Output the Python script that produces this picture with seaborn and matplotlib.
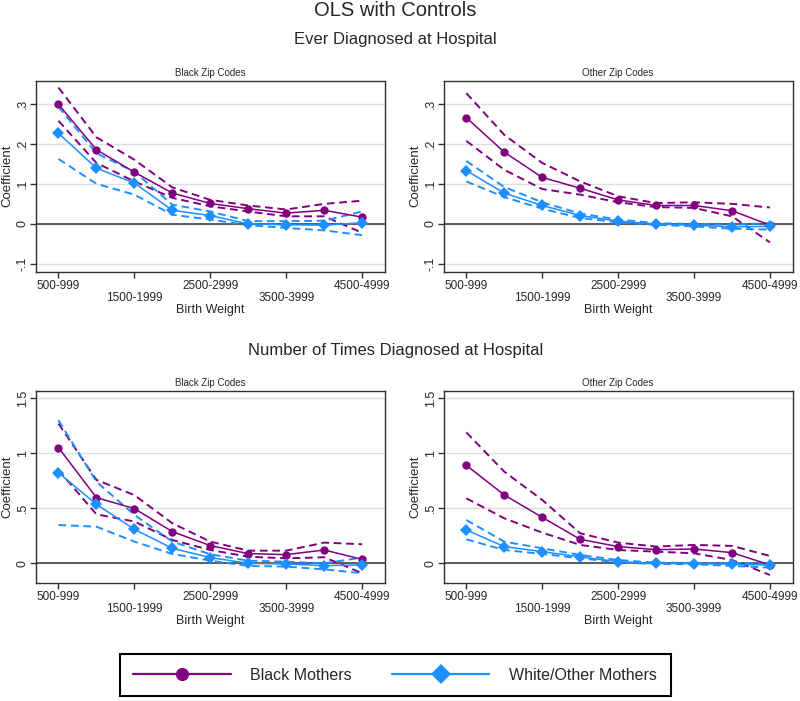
import numpy as np
import pandas as pd
import seaborn as sns
import matplotlib.pyplot as plt
from matplotlib.lines import Line2D

# birth weight bins (x axis)
bins = ['500-999', '1000-1499', '1500-1999', '2000-2499', '2500-2999',
        '3000-3499', '3500-3999', '4000-4499', '4500-4999']
shown_ticks = [0, 2, 4, 6, 8]
tick_labels = ['500-999', '\n1500-1999', '2500-2999', '\n3500-3999', '4500-4999']

# Ever diagnosed, black zip codes
ever_bz_black = [0.298, 0.185, 0.129, 0.077, 0.051, 0.038, 0.027, 0.034, 0.017]
ever_bz_black_hi = [0.340, 0.216, 0.160, 0.091, 0.060, 0.046, 0.036, 0.050, 0.058]
ever_bz_black_lo = [0.257, 0.152, 0.106, 0.065, 0.044, 0.031, 0.019, 0.019, -0.022]
ever_bz_white = [0.226, 0.139, 0.102, 0.034, 0.021, 0.000, -0.002, -0.003, 0.003]
ever_bz_white_hi = [0.292, 0.176, 0.130, 0.048, 0.031, 0.007, 0.007, 0.008, 0.031]
ever_bz_white_lo = [0.162, 0.100, 0.073, 0.023, 0.011, -0.003, -0.010, -0.016, -0.028]

# Ever diagnosed, other zip codes
ever_oz_black = [0.265, 0.179, 0.116, 0.089, 0.060, 0.046, 0.046, 0.033, -0.003]
ever_oz_black_hi = [0.326, 0.222, 0.152, 0.106, 0.069, 0.052, 0.054, 0.050, 0.041]
ever_oz_black_lo = [0.207, 0.135, 0.087, 0.073, 0.054, 0.042, 0.040, 0.019, -0.046]
ever_oz_white = [0.133, 0.077, 0.046, 0.021, 0.007, 0.000, -0.003, -0.007, -0.006]
ever_oz_white_hi = [0.157, 0.092, 0.054, 0.026, 0.011, 0.002, 0.000, -0.002, 0.002]
ever_oz_white_lo = [0.106, 0.067, 0.038, 0.015, 0.004, -0.002, -0.006, -0.012, -0.014]

# Number of times diagnosed, black zip codes
times_bz_black = [1.052, 0.597, 0.497, 0.288, 0.161, 0.088, 0.079, 0.121, 0.036]
times_bz_black_hi = [1.270, 0.758, 0.620, 0.364, 0.197, 0.115, 0.115, 0.188, 0.173]
times_bz_black_lo = [0.848, 0.445, 0.380, 0.212, 0.121, 0.060, 0.045, 0.055, -0.090]
times_bz_white = [0.824, 0.536, 0.309, 0.136, 0.052, 0.000, -0.006, -0.021, -0.015]
times_bz_white_hi = [1.300, 0.742, 0.440, 0.197, 0.082, 0.024, 0.015, 0.000, 0.052]
times_bz_white_lo = [0.348, 0.333, 0.197, 0.085, 0.024, -0.024, -0.030, -0.055, -0.090]

# Number of times diagnosed, other zip codes
times_oz_black = [0.891, 0.621, 0.418, 0.218, 0.152, 0.124, 0.130, 0.097, -0.015]
times_oz_black_hi = [1.190, 0.833, 0.576, 0.273, 0.188, 0.152, 0.167, 0.158, 0.067]
times_oz_black_lo = [0.591, 0.409, 0.279, 0.167, 0.121, 0.106, 0.091, 0.030, -0.106]
times_oz_white = [0.303, 0.152, 0.106, 0.058, 0.015, 0.000, -0.003, -0.009, -0.015]
times_oz_white_hi = [0.394, 0.197, 0.136, 0.076, 0.030, 0.006, 0.003, 0.000, 0.000]
times_oz_white_lo = [0.218, 0.121, 0.085, 0.045, 0.009, -0.006, -0.009, -0.024, -0.039]

ever_yticks = [-0.1, 0, 0.1, 0.2, 0.3]
ever_ylabels = ['-.1', '0', '.1', '.2', '.3']
times_yticks = [0, 0.5, 1, 1.5]
times_ylabels = ['0', '.5', '1', '1.5']

groups = ['Black Mothers', 'White/Other Mothers']
colors = {'Black Mothers': '#800080', 'White/Other Mothers': '#1E8FFF'}
marks = {'Black Mothers': 'o', 'White/Other Mothers': 'D'}


def make_df(black, black_lo, black_hi, white, white_lo, white_hi):
    rows = []
    for g, est, lo, hi in [(groups[0], black, black_lo, black_hi),
                           (groups[1], white, white_lo, white_hi)]:
        for i in range(len(bins)):
            rows.append({'group': g, 'pos': i, 'bin': bins[i],
                         'est': est[i], 'lo': lo[i], 'hi': hi[i]})
    return pd.DataFrame(rows)


panels = [
    ('Black Zip Codes', make_df(ever_bz_black, ever_bz_black_lo, ever_bz_black_hi,
                                ever_bz_white, ever_bz_white_lo, ever_bz_white_hi),
     [0.0446, 0.6124, 0.4366, 0.2725], (-0.119, 0.357), ever_yticks, ever_ylabels),
    ('Other Zip Codes', make_df(ever_oz_black, ever_oz_black_lo, ever_oz_black_hi,
                                ever_oz_white, ever_oz_white_lo, ever_oz_white_hi),
     [0.5544, 0.6124, 0.4365, 0.2725], (-0.119, 0.357), ever_yticks, ever_ylabels),
    ('Black Zip Codes', make_df(times_bz_black, times_bz_black_lo, times_bz_black_hi,
                                times_bz_white, times_bz_white_lo, times_bz_white_hi),
     [0.0446, 0.1688, 0.4366, 0.2739], (-0.176, 1.569), times_yticks, times_ylabels),
    ('Other Zip Codes', make_df(times_oz_black, times_oz_black_lo, times_oz_black_hi,
                                times_oz_white, times_oz_white_lo, times_oz_white_hi),
     [0.5544, 0.1688, 0.4365, 0.2739], (-0.176, 1.569), times_yticks, times_ylabels),
]

sns.set_theme(style='white')
plt.rcParams['font.family'] = ['Liberation Sans', 'DejaVu Sans']

fig = plt.figure(figsize=(8, 7.01), dpi=100)

for title, df, rect, ylim, yticks, ylabels in panels:
    ax = fig.add_axes(rect)
    for y in yticks:
        ax.axhline(y, color='#dedede', lw=1.0, zorder=0)
    ax.axhline(0, color='#505050', lw=1.3, zorder=1)

    # confidence bounds
    for col in ['lo', 'hi']:
        sns.lineplot(data=df, x='pos', y=col, hue='group', palette=colors,
                     linestyle=(0, (4, 2.4)), lw=1.4, errorbar=None,
                     legend=False, ax=ax, zorder=2)
    # point estimates
    sns.lineplot(data=df, x='pos', y='est', hue='group', style='group',
                 palette=colors, markers=marks, dashes=False, lw=1.1,
                 markersize=6, markeredgewidth=0, errorbar=None,
                 legend=False, ax=ax, zorder=3)

    ax.set_xlim(-0.6, 8.6)
    ax.set_ylim(*ylim)
    ax.set_xticks(shown_ticks)
    ax.set_xticklabels(tick_labels, fontsize=8.5)
    for t in ax.get_xticklabels():
        t.set_linespacing(1.05)
    ax.set_yticks(yticks)
    ax.set_yticklabels(ylabels, fontsize=9, rotation=90, va='center')
    ax.tick_params(axis='x', direction='out', length=4, width=1,
                   color='#303030', pad=2, bottom=True)
    ax.tick_params(axis='y', direction='out', length=4, width=1,
                   color='#303030', pad=1, left=True)
    ax.set_xlabel('Birth Weight', fontsize=9)
    ax.set_ylabel('Coefficient', fontsize=9.5)
    ax.xaxis.set_label_coords(0.5, -0.17)
    ax.yaxis.set_label_coords(-0.064, 0.5)
    ax.set_title(title, fontsize=7, pad=3.5)
    for s in ax.spines.values():
        s.set_color('#303030')
        s.set_linewidth(1.0)

fig.text(0.494, 0.9847, 'OLS with Controls', ha='center', va='center', fontsize=14.5)
fig.text(0.494, 0.943, 'Ever Diagnosed at Hospital', ha='center', va='center', fontsize=12)
fig.text(0.494, 0.5007, 'Number of Times Diagnosed at Hospital', ha='center',
         va='center', fontsize=12)

handles = [Line2D([], [], color=colors[g], marker=marks[g], lw=1.6,
                  markersize=9.5 if g == groups[0] else 10, markeredgewidth=0)
           for g in groups]
leg = fig.legend(handles, groups, loc='center', bbox_to_anchor=(0.494, 0.0365),
                 ncol=2, fontsize=11.5, handlelength=6.1, handletextpad=1.25,
                 columnspacing=2.5, borderpad=0.85, frameon=True, fancybox=False,
                 framealpha=1)
leg.get_frame().set_edgecolor('black')
leg.get_frame().set_linewidth(1.5)

fig.savefig('out.png', dpi=100)
